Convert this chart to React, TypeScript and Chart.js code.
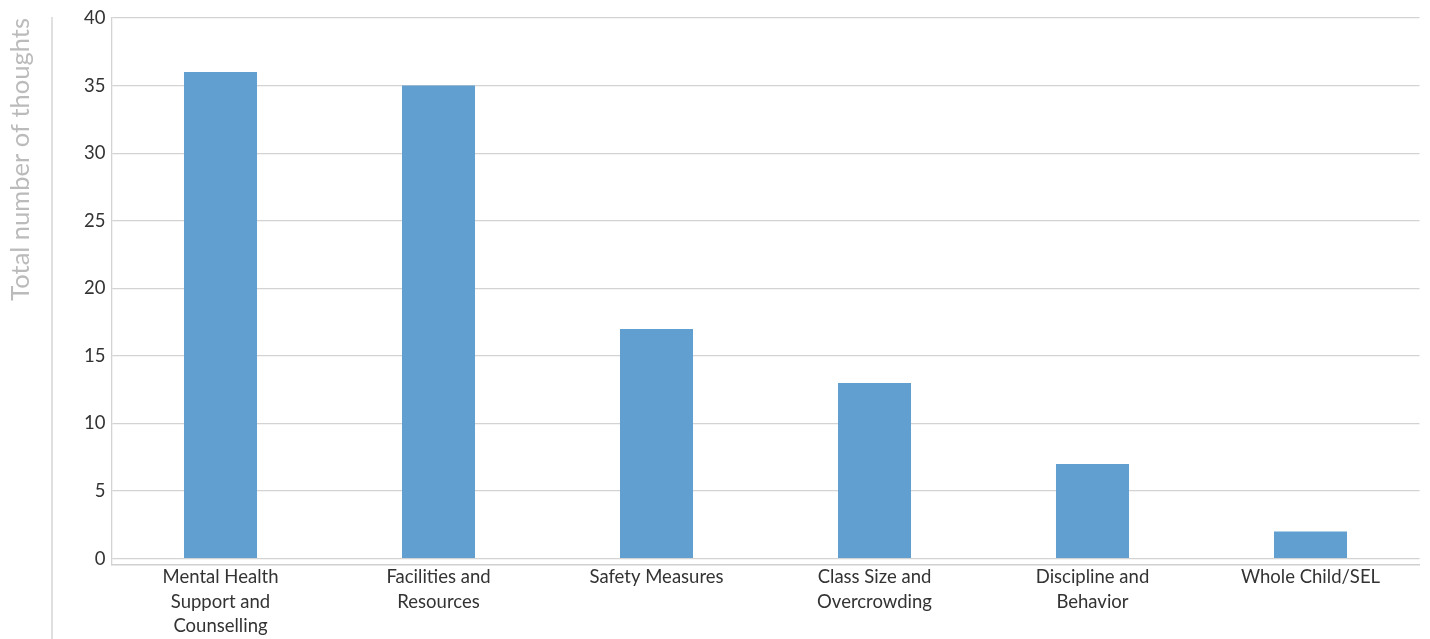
import React, { useEffect, useRef } from "react";
import { Chart, registerables } from "chart.js";

Chart.register(...registerables);

const categories: string[][] = [
  ["Mental Health", "Support and", "Counselling"],
  ["Facilities and", "Resources"],
  ["Safety Measures"],
  ["Class Size and", "Overcrowding"],
  ["Discipline and", "Behavior"],
  ["Whole Child/SEL"],
];

const thoughtCounts: number[] = [36, 35, 17, 13, 7, 2];

const yTickValues: number[] = [0, 5, 10, 15, 20, 25, 30, 35, 40];

const yAxisTitle = "Total number of thoughts";

const sideLinePlugin = {
  id: "sideLine",
  beforeDraw(chart: any) {
    const { ctx, chartArea } = chart;
    const y = chart.scales.y;
    const x = y.left + 51;
    ctx.save();
    ctx.strokeStyle = "#d6d6d6";
    ctx.lineWidth = 1.5;
    ctx.beginPath();
    ctx.moveTo(x, chartArea.top - 1);
    ctx.lineTo(x, chart.height);
    ctx.stroke();
    ctx.restore();
  },
};

export default function App() {
  const canvasRef = useRef<HTMLCanvasElement | null>(null);

  useEffect(() => {
    if (!canvasRef.current) return;
    const chart = new Chart(canvasRef.current, {
      type: "bar",
      data: {
        labels: categories,
        datasets: [
          {
            data: thoughtCounts,
            backgroundColor: "#619fd0",
            borderWidth: 0,
            categoryPercentage: 1,
            barPercentage: 0.335,
          },
        ],
      },
      options: {
        animation: false,
        responsive: false,
        maintainAspectRatio: false,
        layout: { padding: { left: 1, right: 10.5, top: 18, bottom: 0 } },
        plugins: {
          legend: { display: false },
          tooltip: { enabled: false },
        },
        scales: {
          x: {
            grid: { display: false, drawTicks: false },
            border: { display: true, color: "#d0d0d0", width: 1.5 },
            ticks: {
              color: "#333333",
              padding: 0.5,
              maxRotation: 0,
              autoSkip: false,
              font: { family: "Lato", size: 18.5, lineHeight: 1.32 },
            },
          },
          y: {
            min: -0.45,
            max: 40,
            afterBuildTicks: (scale: any) => {
              scale.ticks = yTickValues.map((v) => ({ value: v }));
            },
            afterFit: (scale: any) => {
              scale.width = 110.5;
            },
            grid: { color: "#d3d3d3", lineWidth: 1.3, drawTicks: false },
            border: { display: true, color: "#d3d3d3", width: 1.3 },
            ticks: {
              color: "#333333",
              padding: 6,
              font: { family: "Lato", size: 18.5 },
            },
            title: {
              display: true,
              text: yAxisTitle,
              align: "end",
              color: "#bbbbbb",
              font: { family: "Lato", size: 25.5 },
              padding: { top: 4, bottom: 4 },
            },
          },
        },
      },
      plugins: [sideLinePlugin],
    } as any);
    return () => chart.destroy();
  }, []);

  return (
    <div style={{ position: "fixed", left: 0, top: 0, width: 1430, height: 639, background: "#fff" }}>
      <canvas ref={canvasRef} width={1430} height={639} style={{ width: 1430, height: 639, display: "block" }} />
    </div>
  );
}
